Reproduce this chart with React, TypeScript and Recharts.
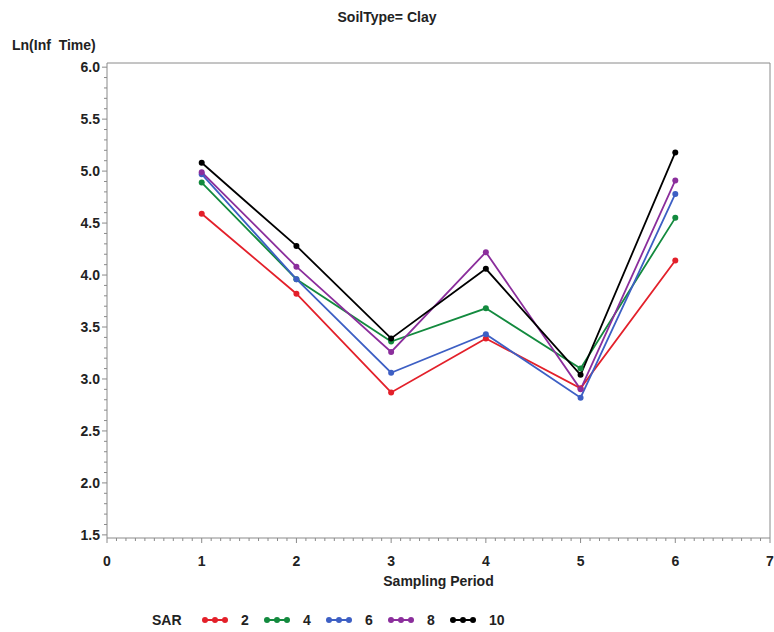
import React from "react";
import { LineChart, Line, XAxis, YAxis, ReferenceArea } from "recharts";

const PERIODS = [1, 2, 3, 4, 5, 6];
const SAR_LEVELS = ["2", "4", "6", "8", "10"];
const SAR2 = [4.59, 3.82, 2.87, 3.39, 2.91, 4.14];
const SAR4 = [4.89, 3.96, 3.36, 3.68, 3.1, 4.55];
const SAR6 = [4.97, 3.96, 3.06, 3.43, 2.82, 4.78];
const SAR8 = [4.99, 4.08, 3.26, 4.22, 2.9, 4.91];
const SAR10 = [5.08, 4.28, 3.39, 4.06, 3.04, 5.18];
const X_MAJOR = [0, 1, 2, 3, 4, 5, 6, 7];
const Y_MAJOR = [1.5, 2.0, 2.5, 3.0, 3.5, 4.0, 4.5, 5.0, 5.5, 6.0];

const COLORS = ["#e3202a", "#138a3e", "#3d5fc4", "#8b2e9c", "#000000"];

const data = PERIODS.map((p, i) => ({
  period: p,
  s2: SAR2[i],
  s4: SAR4[i],
  s6: SAR6[i],
  s8: SAR8[i],
  s10: SAR10[i]
}));
const KEYS = ["s2", "s4", "s6", "s8", "s10"];

// minor tick positions every 0.1
const xTicks: number[] = [];
for (let i = 0; i <= 70; i++) xTicks.push(i / 10);
const yTicks: number[] = [];
for (let i = 15; i <= 60; i++) yTicks.push(i / 10);

const FONT = '"Liberation Sans", Arial, sans-serif';
const TXT = "#222";
const AXIS = "#8a8a8a";

const isMajorX = (v: number) => X_MAJOR.some((m) => Math.abs(m - v) < 1e-6);
const isMajorY = (v: number) => Y_MAJOR.some((m) => Math.abs(m - v) < 1e-6);

function XTick(props: any) {
  const { x, y, payload } = props;
  const major = isMajorX(payload.value);
  return (
    <g>
      <line x1={x} x2={x} y1={y} y2={y + (major ? 5 : 3)} stroke={AXIS} strokeWidth={1} />
      {major && (
        <text x={x} y={y + 28} textAnchor="middle" fontSize={14} fontWeight={700} fill={TXT} fontFamily={FONT}>
          {Math.round(payload.value)}
        </text>
      )}
    </g>
  );
}

function YTick(props: any) {
  const { x, y, payload } = props;
  const major = isMajorY(payload.value);
  return (
    <g>
      <line x1={x} x2={x - (major ? 5 : 3)} y1={y} y2={y} stroke={AXIS} strokeWidth={1} />
      {major && (
        <text x={x - 7} y={y + 5} textAnchor="end" fontSize={14} fontWeight={700} fill={TXT} fontFamily={FONT}>
          {payload.value.toFixed(1)}
        </text>
      )}
    </g>
  );
}

const abs = (left: number, top: number): React.CSSProperties => ({
  position: "absolute",
  left,
  top,
  fontFamily: FONT,
  fontWeight: 700,
  fontSize: 14,
  color: TXT,
  whiteSpace: "nowrap"
});

function LegendSymbol({ color }: { color: string }) {
  return (
    <svg width={26} height={10} style={{ verticalAlign: "middle" }}>
      <line x1={3} x2={23} y1={5} y2={5} stroke={color} strokeWidth={2} />
      <circle cx={3} cy={5} r={3} fill={color} />
      <circle cx={13} cy={5} r={3} fill={color} />
      <circle cx={23} cy={5} r={3} fill={color} />
    </svg>
  );
}

export default function App() {
  return (
    <div style={{ position: "absolute", left: 0, top: 0, width: 774, height: 632, background: "#fff" }}>
      <div style={{ ...abs(0, 9), width: 774, textAlign: "center" }}>SoilType= Clay</div>
      <div style={abs(12, 37)}>Ln(Inf&nbsp;&nbsp;Time)</div>
      <LineChart width={774} height={632} data={data} margin={{ top: 63, right: 4, bottom: 54, left: 47 }}>
        <XAxis
          dataKey="period"
          type="number"
          domain={[0, 7]}
          ticks={xTicks}
          interval={0}
          tick={<XTick />}
          tickLine={false}
          tickSize={0}
          tickMargin={0}
          axisLine={false}
          height={40}
          allowDataOverflow
        />
        <YAxis
          type="number"
          domain={[1.47, 6.04]}
          ticks={yTicks}
          interval={0}
          tick={<YTick />}
          tickLine={false}
          tickSize={0}
          tickMargin={0}
          axisLine={false}
          width={60}
          allowDataOverflow
        />
        <ReferenceArea x1={0} x2={7} y1={1.47} y2={6.04} fill="none" stroke={AXIS} strokeWidth={1} fillOpacity={0} />
        {KEYS.map((k, i) => (
          <Line
            key={k}
            dataKey={k}
            type="linear"
            stroke={COLORS[i]}
            strokeWidth={1.8}
            dot={{ r: 3, fill: COLORS[i], stroke: COLORS[i], strokeWidth: 0 }}
            activeDot={false}
            isAnimationActive={false}
          />
        ))}
      </LineChart>
      <div style={{ ...abs(107, 573), width: 663, textAlign: "center" }}>Sampling Period</div>
      <div style={abs(152, 612)}>SAR</div>
      {SAR_LEVELS.map((lv, i) => (
        <div key={lv} style={{ ...abs(202 + i * 62, 612), display: "flex", alignItems: "center", gap: 13 }}>
          <LegendSymbol color={COLORS[i]} />
          <span>{lv}</span>
        </div>
      ))}
    </div>
  );
}
